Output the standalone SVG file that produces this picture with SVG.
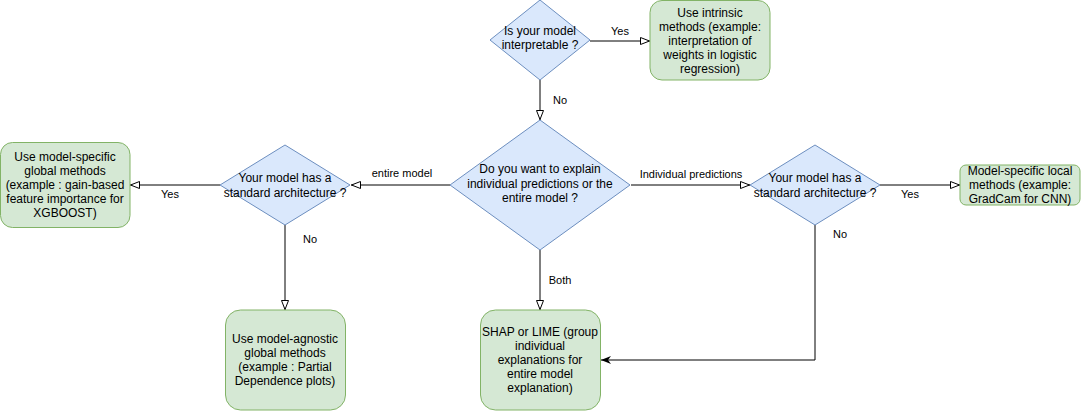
<svg xmlns="http://www.w3.org/2000/svg" width="1082" height="412" viewBox="0 0 1082 412">
<style>
.dec{fill:#dae8fc;stroke:#6c8ebf;stroke-width:1}
.res{fill:#d5e8d4;stroke:#82b366;stroke-width:1}
.t{font-family:"Liberation Sans",Arial,sans-serif;font-size:12px;fill:#000;text-anchor:middle}
.l{font-family:"Liberation Sans",Arial,sans-serif;font-size:11px;fill:#000;text-anchor:middle}
.e{fill:none;stroke:#000;stroke-width:1}
</style>
<defs>
<marker id="open" viewBox="0 0 10 8" refX="10" refY="4" markerWidth="10" markerHeight="8" markerUnits="userSpaceOnUse" orient="auto">
<path d="M0.5,0.5 L9.5,4 L0.5,7.5 Z" fill="#fff" stroke="#000" stroke-width="1"/>
</marker>
<marker id="filled" viewBox="0 0 10 8" refX="10" refY="4" markerWidth="10" markerHeight="8" markerUnits="userSpaceOnUse" orient="auto">
<path d="M0,0 L10,4 L0,8 L3,4 Z" fill="#000"/>
</marker>
</defs>
<g id="connectors">
<path class="e" d="M590,41 L650,41" marker-end="url(#open)"/>
<path class="e" d="M540,80 L540,120" marker-end="url(#open)"/>
<path class="e" d="M450,185 L351,185" marker-end="url(#open)"/>
<path class="e" d="M631,185 L750,185" marker-end="url(#open)"/>
<path class="e" d="M220,185 L130,185" marker-end="url(#open)"/>
<path class="e" d="M285,225 L285,310" marker-end="url(#open)"/>
<path class="e" d="M540,250 L540,310" marker-end="url(#open)"/>
<path class="e" d="M880,185 L960,185" marker-end="url(#open)"/>
<path class="e" d="M815,225 L815,360 L601,360" marker-end="url(#filled)"/>
<text class="l" x="620" y="34.5">Yes</text>
<text class="l" x="560" y="104">No</text>
<text class="l" x="402" y="177">entire model</text>
<text class="l" x="691" y="178">Individual predictions</text>
<text class="l" x="170" y="198">Yes</text>
<text class="l" x="310" y="243">No</text>
<text class="l" x="560" y="284">Both</text>
<text class="l" x="910" y="198">Yes</text>
<text class="l" x="840" y="238">No</text>
</g>
<g id="q-interpretable">
<polygon class="dec" points="540,0 590,40 540,80 490,40"/>
<text class="t" x="540" y="35">Is your model</text>
<text class="t" x="540" y="49">interpretable ?</text>
</g>
<g id="intrinsic">
<rect class="res" x="650" y="0.5" width="120" height="79.5" rx="12"/>
<text class="t" x="710" y="16.5">Use intrinsic</text>
<text class="t" x="710" y="30.5">methods (example:</text>
<text class="t" x="710" y="44.5">interpretation of</text>
<text class="t" x="710" y="58.5">weights in logistic</text>
<text class="t" x="710" y="72.5">regression)</text>
</g>
<g id="q-scope">
<polygon class="dec" points="540,120 630,185 540,250 450,185"/>
<text class="t" x="540" y="173">Do you want to explain</text>
<text class="t" x="540" y="187.5">individual predictions or the</text>
<text class="t" x="540" y="202">entire model ?</text>
</g>
<g id="q-arch-left">
<polygon class="dec" points="285,145 350,185 285,225 220,185"/>
<text class="t" x="285" y="182">Your model has a</text>
<text class="t" x="285" y="196.5">standard architecture ?</text>
</g>
<g id="q-arch-right">
<polygon class="dec" points="815,145 880,185 815,225 750,185"/>
<text class="t" x="815" y="182">Your model has a</text>
<text class="t" x="815" y="196.5">standard architecture ?</text>
</g>
<g id="global-specific">
<rect class="res" x="0.5" y="142.5" width="129.5" height="85" rx="12"/>
<text class="t" x="65" y="161">Use model-specific</text>
<text class="t" x="65" y="175">global methods</text>
<text class="t" x="65" y="189">(example : gain-based</text>
<text class="t" x="65" y="203">feature importance for</text>
<text class="t" x="65" y="217">XGBOOST)</text>
</g>
<g id="local-specific">
<rect class="res" x="960" y="165" width="120" height="40" rx="6"/>
<text class="t" x="1020" y="175">Model-specific local</text>
<text class="t" x="1020" y="189">methods (example:</text>
<text class="t" x="1020" y="203">GradCam for CNN)</text>
</g>
<g id="global-agnostic">
<rect class="res" x="225.5" y="310" width="120" height="100" rx="15"/>
<text class="t" x="285" y="343">Use model-agnostic</text>
<text class="t" x="285" y="357">global methods</text>
<text class="t" x="285" y="371">(example : Partial</text>
<text class="t" x="285" y="385">Dependence plots)</text>
</g>
<g id="shap-lime">
<rect class="res" x="480.5" y="310" width="120" height="100" rx="15"/>
<text class="t" x="540" y="336">SHAP or LIME (group</text>
<text class="t" x="540" y="350">individual</text>
<text class="t" x="540" y="364">explanations for</text>
<text class="t" x="540" y="378">entire model</text>
<text class="t" x="540" y="392">explanation)</text>
</g>
</svg>
